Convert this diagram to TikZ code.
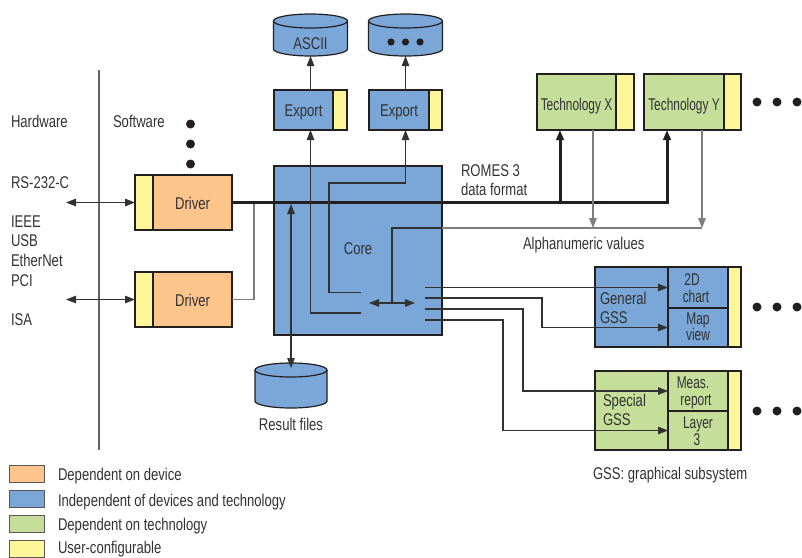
\documentclass[tikz,border=0pt]{standalone}
\usepackage{fontspec}
\setmainfont{Liberation Sans}[FakeStretch=0.77]
\newfontfamily\narrowfont{Liberation Sans}[FakeStretch=0.70]
\usetikzlibrary{arrows.meta}
\definecolor{orgC}{RGB}{252,197,140}
\definecolor{bluC}{RGB}{122,166,216}
\definecolor{grnC}{RGB}{197,223,155}
\definecolor{yelC}{RGB}{255,246,153}
\definecolor{bordC}{RGB}{35,31,32}
\definecolor{txtC}{RGB}{50,50,50}
\definecolor{lnC}{RGB}{50,50,50}
\definecolor{grayC}{RGB}{125,125,125}
\newcommand\drawcyl[4]{%
  \pgfmathsetmacro\rxx{(#2-#1)/2}%
  \filldraw[fill=bluC, draw=bordC, line width=1.2pt] (#1,-#3-7) -- (#1,-#4+7)
    arc[start angle=180,end angle=360,x radius=\rxx,y radius=7] -- (#2,-#3-7)
    arc[start angle=0,end angle=180,x radius=\rxx,y radius=7] -- cycle;
  \draw[bordC, line width=1.2pt] (#1,-#3-7) arc[start angle=180,end angle=360,x radius=\rxx,y radius=7];
}
\begin{document}
\begin{tikzpicture}[x=1pt,y=1pt,
  font=\fontsize{17}{19}\selectfont,
  every node/.style={inner sep=0pt, outer sep=0pt, text=txtC},
  box/.style={draw=bordC, line width=2.2pt},
  nar/.style={font=\narrowfont\fontsize{17}{19}\selectfont},
  yR/.style={path picture={\fill[yelC] ([xshift=-#1]path picture bounding box.north east) rectangle (path picture bounding box.south east);
     \draw[bordC,line width=2.2pt] ([xshift=-#1]path picture bounding box.north east) -- ([xshift=-#1]path picture bounding box.south east);}},
  yL/.style={path picture={\fill[yelC] (path picture bounding box.north west) rectangle ([xshift=#1]path picture bounding box.south west);
     \draw[bordC,line width=2.2pt] ([xshift=#1]path picture bounding box.north west) -- ([xshift=#1]path picture bounding box.south west);}},
  tip/.style={-{Triangle[length=10pt,width=7.5pt]}},
  dtip/.style={{Triangle[length=10pt,width=7.5pt]}-{Triangle[length=10pt,width=7.5pt]}},
  conn/.style={draw=lnC, line width=1.2pt},
  gconn/.style={draw=grayC, line width=1.2pt},
  bus/.style={draw=bordC, line width=3pt},
  leg/.style={draw=bordC!75, line width=1pt, minimum width=35pt, minimum height=17pt}
]
\useasboundingbox (0,0) rectangle (802,-557);

% ---- left labels
\node[anchor=base west] (hwl) at (11,-127) {Hardware};
\node[anchor=base west] (swl) at (113,-127) {Software};
\node[anchor=base west] (rs) at (11,-188) {RS-232-C};
\node[anchor=base west] (ieee) at (11,-227) {IEEE};
\node[anchor=base west] (usb) at (11,-246.5) {USB};
\node[anchor=base west] (eth) at (11,-266) {EtherNet};
\node[anchor=base west] (pci) at (11,-286) {PCI};
\node[anchor=base west] (isa) at (11,-325) {ISA};
\coordinate (divT) at (99,-70);
\coordinate (divB) at (99,-450);
\draw[draw=grayC!80!black, line width=1.2pt] (divT) -- (divB);
\fill[bordC] (190.5,-124) circle (4.5) (190.5,-144) circle (4.5) (190.5,-164) circle (4.5);

% ---- cylinders
\drawcyl{273.5}{347.5}{14}{56}
\node[minimum width=74pt, minimum height=42pt] (ascii) at (310.5,-35) {};
\node[anchor=base] (asciit) at (310.5,-49) {ASCII};
\drawcyl{368.5}{442.5}{14}{56}
\node[minimum width=74pt, minimum height=42pt] (more) at (405.5,-35) {};
\fill[bordC] (391,-42) circle (3.6) (405.5,-42) circle (3.6) (420,-42) circle (3.6);
\drawcyl{255}{327}{363}{408}
\node[minimum width=72pt, minimum height=45pt] (res) at (291,-385.5) {};
\node[anchor=base] (rest) at (291,-430.5) {Result files};

% ---- boxes
\node[box, fill=orgC, minimum width=97pt, minimum height=55pt, yL=18pt] (drv1) at (183.5,-202.5) {};
\node[anchor=base] at (192.5,-209) {Driver};
\node[box, fill=orgC, minimum width=97pt, minimum height=55pt, yL=18pt] (drv2) at (183.5,-299.5) {};
\node[anchor=base] at (192.5,-306.5) {Driver};
\node[box, fill=bluC, minimum width=73pt, minimum height=40pt, yR=14pt] (exp1) at (310.5,-110) {};
\node[anchor=base] at (303.5,-116.5) {Export};
\node[box, fill=bluC, minimum width=73pt, minimum height=40pt, yR=13pt] (exp2) at (405.5,-110) {};
\node[anchor=base] at (399,-116.5) {Export};
\node[box, fill=bluC, minimum width=168pt, minimum height=169pt] (core) at (358,-250.5) {};
\node[anchor=base] at (358,-254) {Core};
\node[box, fill=grnC, minimum width=97pt, minimum height=56pt, yR=18pt] (techX) at (585.5,-102) {};
\node[nar, anchor=base] at (576.5,-110) {Technology X};
\node[box, fill=grnC, minimum width=97pt, minimum height=56pt, yR=17pt] (techY) at (692.5,-102) {};
\node[nar, anchor=base] at (684,-110) {Technology Y};
\fill[bordC] (757,-102) circle (4.5) (777,-102) circle (4.5) (797,-102) circle (4.5);

\node[box, fill=bluC, minimum width=146pt, minimum height=80pt, yR=13pt] (gen) at (668,-307) {};
\node[box, fill=bluC, minimum width=60pt, minimum height=41pt] (chart) at (698,-287.5) {};
\node[box, fill=bluC, minimum width=60pt, minimum height=39pt] (map) at (698,-327.5) {};
\node[box, fill=grnC, minimum width=146pt, minimum height=79pt, yR=13pt] (spe) at (668,-410.5) {};
\node[box, fill=grnC, minimum width=60pt, minimum height=40pt] (meas) at (698,-391) {};
\node[box, fill=grnC, minimum width=60pt, minimum height=39pt] (layer) at (698,-430.5) {};
\fill[bordC] (757,-307) circle (4.5) (777,-307) circle (4.5) (797,-307) circle (4.5);
\fill[bordC] (757,-411) circle (4.5) (777,-411) circle (4.5) (797,-411) circle (4.5);

% ---- connectors
\coordinate (hw1) at (66,-202.5);
\coordinate (hw2) at (66,-299.5);
\draw[conn, dtip] (hw1) -- (drv1.west);
\draw[conn, dtip] (hw2) -- (drv2.west);
\coordinate (j2) at (254,-202.5);
\draw[gconn] (drv2.east) -| (j2);
\coordinate (busX) at (560,-202.5);
\coordinate (busY) at (667,-202.5);
\draw[bus, tip, line join=miter] (drv1.east) -- (busY) -- (busY |- techY.south);
\draw[bus, tip] (busX) -- (busX |- techX.south);

\coordinate (alnX) at (593,-228);
\coordinate (alnY) at (702,-228);
\coordinate (alpha) at (392,-228);
\coordinate (dl) at (369,-303);
\coordinate (dr) at (415,-303);
\draw[gconn, tip] (techX.south -| alnX) -- (alnX);
\draw[gconn, tip] (techY.south -| alnY) -- (alnY);
\draw[gconn] (core.east |- alpha) -- (alnY);
\draw[conn] (alpha |- dl) -- (alpha) -- (core.east |- alpha);
\draw[conn, dtip] (dl) -- (dr);

\coordinate (e1s) at (361,-313);
\coordinate (e2s) at (361,-292.5);
\draw[conn, tip] (e1s) -| (exp1.south);
\draw[conn, tip] (e2s) -- ++(-32,0) |- ([yshift=-53pt]exp2.south) -- (exp2.south);
\draw[conn, tip] (exp1.north) -- (exp1.north |- ascii.south);
\draw[conn, tip] (exp2.north) -- (exp2.north |- more.south);
\coordinate (resT) at (291,-204);
\draw[conn, dtip] (resT) -- ([yshift=-5pt]res.north);

\coordinate (s1) at (425,-287.5);
\coordinate (s2) at (425,-298);
\coordinate (s3) at (425,-309);
\coordinate (s4) at (425,-320);
\draw[conn, tip] (s1) -- (chart.west);
\draw[conn, tip] (s2) -- ++(117,0) |- (map.west);
\draw[conn, tip] (s3) -- ++(98,0) |- (meas.west);
\draw[conn, tip] (s4) -- ++(78,0) |- (layer.west);

% ---- labels
\node[anchor=base west] (romes) at (461,-176) {ROMES 3};
\node[anchor=base west] (dform) at (461,-195) {data format};
\node[anchor=base west] (alph) at (523,-249) {Alphanumeric values};
\node[anchor=base west] at (600,-304) {General};
\node[anchor=base west] at (600,-323) {GSS};
\node[anchor=base west] at (603,-406.7) {Special};
\node[anchor=base west] at (603,-425.7) {GSS};
\node[nar, anchor=base] at (692,-285) {2D};
\node[nar, anchor=base] at (696,-302) {chart};
\node[nar, anchor=base] at (698,-324) {Map};
\node[nar, anchor=base] at (698,-340.5) {view};
\node[nar, anchor=base] at (693,-388.3) {Meas.};
\node[nar, anchor=base] at (696,-405.7) {report};
\node[nar, anchor=base] at (698,-428.3) {Layer};
\node[nar, anchor=base] at (697,-445) {3};
\node[anchor=base west] (gssn) at (593,-479.5) {GSS: graphical subsystem};

% ---- legend
\node[leg, fill=orgC] (lg1) at (27,-473.5) {};
\node[leg, fill=bluC] (lg2) at (27,-498.5) {};
\node[leg, fill=grnC] (lg3) at (27,-524) {};
\node[leg, fill=yelC] (lg4) at (27,-549) {};
\node[anchor=base west] at (58,-480) {Dependent on device};
\node[anchor=base west] at (58,-506.5) {Independent of devices and technology};
\node[anchor=base west] at (58,-530) {Dependent on technology};
\node[anchor=base west] at (58,-553.5) {User-configurable};
\end{tikzpicture}
\end{document}
